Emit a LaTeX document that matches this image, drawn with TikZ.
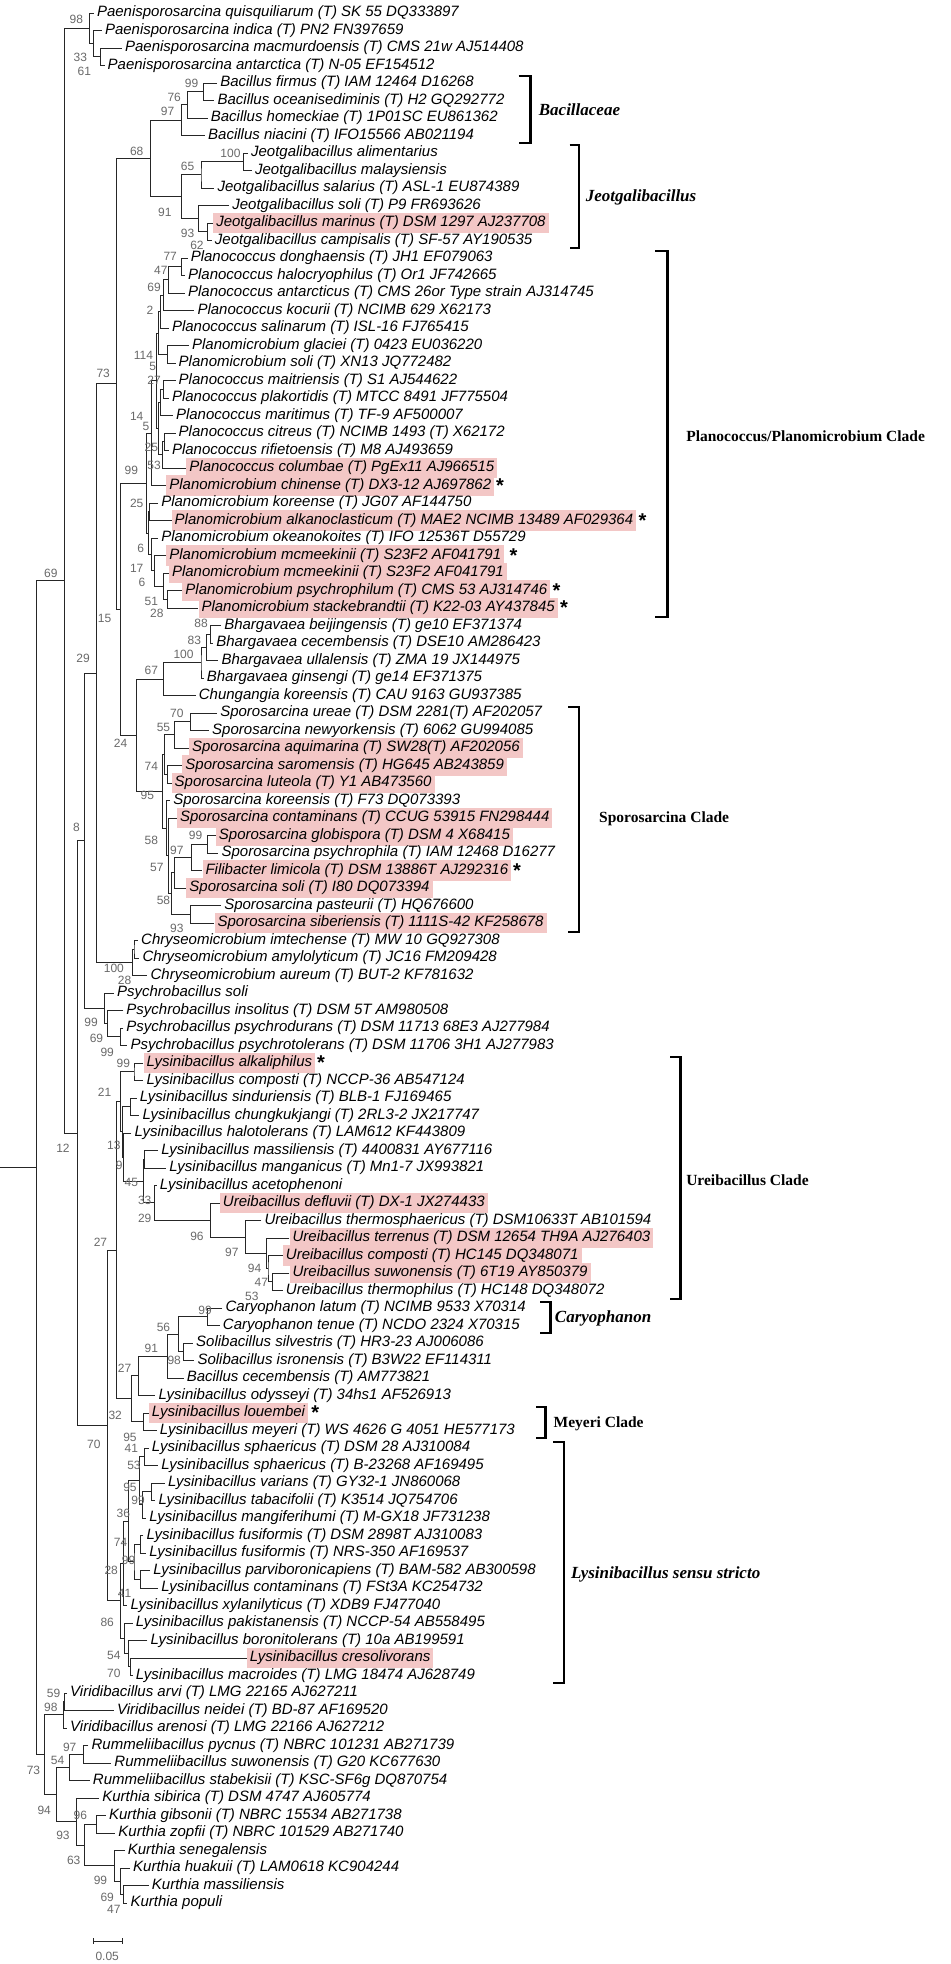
\documentclass[tikz,border=0pt]{standalone}
\usepackage{fontspec}
\setmainfont{Liberation Sans}
\newfontfamily\cladefont{Liberation Serif}
\usetikzlibrary{calc,positioning}
\definecolor{hilite}{RGB}{243,199,198}
\definecolor{bsgray}{RGB}{105,105,105}

% internal node: name, x, upper child, lower child
\newcommand{\clade}[4]{%
  \coordinate (#1m) at ($(#3)!0.5!(#4)$);
  \coordinate (#1) at (#2,0 |- #1m);
  \draw[branch] (#3) -| (#1) |- (#4);%
}

\begin{document}
\begin{tikzpicture}[x=1.34pt,y=-1pt]
  \tikzstyle{branch}=[line width=0.8pt,black!85]
  \tikzstyle{leaf}=[anchor=west,inner xsep=3pt,inner ysep=2.8pt,text height=11pt,text depth=3.5pt,font=\fontsize{15}{18}\selectfont\itshape]
  \tikzstyle{hl}=[leaf,fill=hilite]
  \tikzstyle{astk}=[inner xsep=1pt,inner ysep=0pt,font=\fontsize{20}{20}\selectfont\bfseries]
  \tikzstyle{bs}=[inner sep=0pt,text=bsgray,font=\fontsize{12}{12}\selectfont]
  \tikzstyle{brk}=[line width=2.6pt]
  \tikzstyle{cl}=[anchor=west,inner sep=0pt,font=\cladefont\bfseries\fontsize{15.5}{18}\selectfont]
  \tikzstyle{cli}=[cl,font=\cladefont\bfseries\itshape\fontsize{17}{18}\selectfont]
  \useasboundingbox (0,0) rectangle (709,1964);

  % taxa
  \node[leaf] (T_1) at (70,13) {Paenisporosarcina quisquiliarum (T) SK 55 DQ333897};
  \node[leaf] (T_2) at (76,30.5) {Paenisporosarcina indica (T) PN2 FN397659};
  \node[leaf] (T_3) at (91,48) {Paenisporosarcina macmurdoensis (T) CMS 21w AJ514408};
  \node[leaf] (T_4) at (78,65.5) {Paenisporosarcina antarctica (T) N-05 EF154512};
  \node[leaf] (T_5) at (162,83) {Bacillus firmus (T) IAM 12464 D16268};
  \node[leaf] (T_6) at (160,100.5) {Bacillus oceanisediminis (T) H2 GQ292772};
  \node[leaf] (T_7) at (155,118) {Bacillus homeckiae (T) 1P01SC EU861362};
  \node[leaf] (T_8) at (153,135.5) {Bacillus niacini (T) IFO15566 AB021194};
  \node[leaf] (T_9) at (185,153) {Jeotgalibacillus alimentarius};
  \node[leaf] (T_10) at (188,170.5) {Jeotgalibacillus malaysiensis};
  \node[leaf] (T_11) at (160,188) {Jeotgalibacillus salarius (T) ASL-1 EU874389};
  \node[leaf] (T_12) at (171,205.5) {Jeotgalibacillus soli (T) P9 FR693626};
  \node[hl] (T_13) at (159,223) {Jeotgalibacillus marinus (T) DSM 1297 AJ237708};
  \node[leaf] (T_14) at (158,240.5) {Jeotgalibacillus campisalis (T) SF-57 AY190535};
  \node[leaf] (T_15) at (140,258) {Planococcus donghaensis (T) JH1 EF079063};
  \node[leaf] (T_16) at (138,275.5) {Planococcus halocryophilus (T) Or1 JF742665};
  \node[leaf] (T_17) at (138,293) {Planococcus antarcticus (T) CMS 26or Type strain AJ314745};
  \node[leaf] (T_18) at (145,310.5) {Planococcus kocurii (T) NCIMB 629 X62173};
  \node[leaf] (T_19) at (126,328) {Planococcus salinarum (T) ISL-16 FJ765415};
  \node[leaf] (T_20) at (141,345.5) {Planomicrobium glaciei (T) 0423 EU036220};
  \node[leaf] (T_21) at (131,363) {Planomicrobium soli (T) XN13 JQ772482};
  \node[leaf] (T_22) at (131,380.5) {Planococcus maitriensis (T) S1 AJ544622};
  \node[leaf] (T_23) at (126,398) {Planococcus plakortidis (T) MTCC 8491 JF775504};
  \node[leaf] (T_24) at (129,415.5) {Planococcus maritimus (T) TF-9 AF500007};
  \node[leaf] (T_25) at (131,433) {Planococcus citreus (T) NCIMB 1493 (T) X62172};
  \node[leaf] (T_26) at (126,450.5) {Planococcus rifietoensis (T) M8 AJ493659};
  \node[hl] (T_27) at (139,468) {Planococcus columbae (T) PgEx11 AJ966515};
  \node[hl] (T_28) at (124,485.5) {Planomicrobium chinense (T) DX3-12 AJ697862};
  \node[leaf] (T_29) at (118,503) {Planomicrobium koreense (T) JG07 AF144750};
  \node[hl] (T_30) at (128,520.5) {Planomicrobium alkanoclasticum (T) MAE2 NCIMB 13489 AF029364};
  \node[leaf] (T_31) at (118,538) {Planomicrobium okeanokoites (T) IFO 12536T D55729};
  \node[hl] (T_32) at (124,555.5) {Planomicrobium mcmeekinii (T) S23F2 AF041791};
  \node[hl] (T_33) at (126,573) {Planomicrobium mcmeekinii (T) S23F2 AF041791};
  \node[hl] (T_34) at (136,590.5) {Planomicrobium psychrophilum (T) CMS 53 AJ314746};
  \node[hl] (T_35) at (148,608) {Planomicrobium stackebrandtii (T) K22-03 AY437845};
  \node[leaf] (T_36) at (165,625.5) {Bhargavaea beijingensis (T) ge10 EF371374};
  \node[leaf] (T_37) at (159,643) {Bhargavaea cecembensis (T) DSE10 AM286423};
  \node[leaf] (T_38) at (163,660.5) {Bhargavaea ullalensis (T) ZMA 19 JX144975};
  \node[leaf] (T_39) at (152,678) {Bhargavaea ginsengi (T) ge14 EF371375};
  \node[leaf] (T_40) at (146,695.5) {Chungangia koreensis (T) CAU 9163 GU937385};
  \node[leaf] (T_41) at (162,713) {Sporosarcina ureae (T) DSM 2281(T) AF202057};
  \node[leaf] (T_42) at (156,730.5) {Sporosarcina newyorkensis (T) 6062 GU994085};
  \node[hl] (T_43) at (141,748) {Sporosarcina aquimarina (T) SW28(T) AF202056};
  \node[hl] (T_44) at (136,765.5) {Sporosarcina saromensis (T) HG645 AB243859};
  \node[hl] (T_45) at (128,783) {Sporosarcina luteola (T) Y1 AB473560};
  \node[leaf] (T_46) at (127,800.5) {Sporosarcina koreensis (T) F73 DQ073393};
  \node[hl] (T_47) at (132,818) {Sporosarcina contaminans (T) CCUG 53915 FN298444};
  \node[hl] (T_48) at (161,835.5) {Sporosarcina globispora (T) DSM 4 X68415};
  \node[leaf] (T_49) at (163,853) {Sporosarcina psychrophila (T) IAM 12468 D16277};
  \node[hl] (T_50) at (151,870.5) {Filibacter limicola (T) DSM 13886T AJ292316};
  \node[hl] (T_51) at (139,888) {Sporosarcina soli (T) I80 DQ073394};
  \node[leaf] (T_52) at (165,905.5) {Sporosarcina pasteurii (T) HQ676600};
  \node[hl] (T_53) at (160,923) {Sporosarcina siberiensis (T) 1111S-42 KF258678};
  \node[leaf] (T_54) at (103,940.5) {Chryseomicrobium imtechense (T) MW 10 GQ927308};
  \node[leaf] (T_55) at (104,958) {Chryseomicrobium amylolyticum (T) JC16 FM209428};
  \node[leaf] (T_56) at (110,975.5) {Chryseomicrobium aureum (T) BUT-2 KF781632};
  \node[leaf] (T_57) at (85,993) {Psychrobacillus soli};
  \node[leaf] (T_58) at (92,1010.5) {Psychrobacillus insolitus (T) DSM 5T AM980508};
  \node[leaf] (T_59) at (92,1028) {Psychrobacillus psychrodurans (T) DSM 11713 68E3 AJ277984};
  \node[leaf] (T_60) at (95,1045.5) {Psychrobacillus psychrotolerans (T) DSM 11706 3H1 AJ277983};
  \node[hl] (T_61) at (107,1063) {Lysinibacillus alkaliphilus};
  \node[leaf] (T_62) at (107,1080.5) {Lysinibacillus composti (T) NCCP-36 AB547124};
  \node[leaf] (T_63) at (102,1098) {Lysinibacillus sinduriensis (T) BLB-1 FJ169465};
  \node[leaf] (T_64) at (104,1115.5) {Lysinibacillus chungkukjangi (T) 2RL3-2 JX217747};
  \node[leaf] (T_65) at (98,1133) {Lysinibacillus halotolerans (T) LAM612 KF443809};
  \node[leaf] (T_66) at (118,1150.5) {Lysinibacillus massiliensis (T) 4400831 AY677116};
  \node[leaf] (T_67) at (124,1168) {Lysinibacillus manganicus (T) Mn1-7 JX993821};
  \node[leaf] (T_68) at (117,1185.5) {Lysinibacillus acetophenoni};
  \node[hl] (T_69) at (164,1203) {Ureibacillus defluvii (T) DX-1 JX274433};
  \node[leaf] (T_70) at (195,1220.5) {Ureibacillus thermosphaericus (T) DSM10633T AB101594};
  \node[hl] (T_71) at (216,1238) {Ureibacillus terrenus (T) DSM 12654 TH9A AJ276403};
  \node[hl] (T_72) at (211,1255.5) {Ureibacillus composti (T) HC145 DQ348071};
  \node[hl] (T_73) at (216,1273) {Ureibacillus suwonensis (T) 6T19 AY850379};
  \node[leaf] (T_74) at (211,1290.5) {Ureibacillus thermophilus (T) HC148 DQ348072};
  \node[leaf] (T_75) at (166,1308) {Caryophanon latum (T) NCIMB 9533 X70314};
  \node[leaf] (T_76) at (164,1325.5) {Caryophanon tenue (T) NCDO 2324 X70315};
  \node[leaf] (T_77) at (144,1343) {Solibacillus silvestris (T) HR3-23 AJ006086};
  \node[leaf] (T_78) at (145,1360.5) {Solibacillus isronensis (T) B3W22 EF114311};
  \node[leaf] (T_79) at (137,1378) {Bacillus cecembensis (T) AM773821};
  \node[leaf] (T_80) at (116,1395.5) {Lysinibacillus odysseyi (T) 34hs1 AF526913};
  \node[hl] (T_81) at (111,1413) {Lysinibacillus louembei};
  \node[leaf] (T_82) at (117,1430.5) {Lysinibacillus meyeri (T) WS 4626 G 4051 HE577173};
  \node[leaf] (T_83) at (111,1448) {Lysinibacillus sphaericus (T) DSM 28 AJ310084};
  \node[leaf] (T_84) at (118,1465.5) {Lysinibacillus sphaericus (T) B-23268 AF169495};
  \node[leaf] (T_85) at (123,1483) {Lysinibacillus varians (T) GY32-1 JN860068};
  \node[leaf] (T_86) at (116,1500.5) {Lysinibacillus tabacifolii (T) K3514 JQ754706};
  \node[leaf] (T_87) at (109,1518) {Lysinibacillus mangiferihumi (T) M-GX18 JF731238};
  \node[leaf] (T_88) at (107,1535.5) {Lysinibacillus fusiformis (T) DSM 2898T AJ310083};
  \node[leaf] (T_89) at (109,1553) {Lysinibacillus fusiformis (T) NRS-350 AF169537};
  \node[leaf] (T_90) at (112,1570.5) {Lysinibacillus parviboronicapiens (T) BAM-582 AB300598};
  \node[leaf] (T_91) at (118,1588) {Lysinibacillus contaminans (T) FSt3A KC254732};
  \node[leaf] (T_92) at (95,1605.5) {Lysinibacillus xylanilyticus (T) XDB9 FJ477040};
  \node[leaf] (T_93) at (99,1623) {Lysinibacillus pakistanensis (T) NCCP-54 AB558495};
  \node[leaf] (T_94) at (110,1640.5) {Lysinibacillus boronitolerans (T) 10a AB199591};
  \node[hl] (T_95) at (184,1658) {Lysinibacillus cresolivorans};
  \node[leaf] (T_96) at (99,1675.5) {Lysinibacillus macroides (T) LMG 18474 AJ628749};
  \node[leaf] (T_97) at (50,1693) {Viridibacillus arvi (T) LMG 22165 AJ627211};
  \node[leaf] (T_98) at (85,1710.5) {Viridibacillus neidei (T) BD-87 AF169520};
  \node[leaf] (T_99) at (50,1728) {Viridibacillus arenosi (T) LMG 22166 AJ627212};
  \node[leaf] (T_100) at (66,1745.5) {Rummeliibacillus pycnus (T) NBRC 101231 AB271739};
  \node[leaf] (T_101) at (83,1763) {Rummeliibacillus suwonensis (T) G20 KC677630};
  \node[leaf] (T_102) at (67,1780.5) {Rummeliibacillus stabekisii (T) KSC-SF6g DQ870754};
  \node[leaf] (T_103) at (74,1798) {Kurthia sibirica (T) DSM 4747 AJ605774};
  \node[leaf] (T_104) at (79,1815.5) {Kurthia gibsonii (T) NBRC 15534 AB271738};
  \node[leaf] (T_105) at (86,1833) {Kurthia zopfii (T) NBRC 101529 AB271740};
  \node[leaf] (T_106) at (93,1850.5) {Kurthia senegalensis};
  \node[leaf] (T_107) at (97,1868) {Kurthia huakuii (T) LAM0618 KC904244};
  \node[leaf] (T_108) at (111,1885.5) {Kurthia massiliensis};
  \node[leaf] (T_109) at (95,1903) {Kurthia populi};

  % asterisks
  \node[astk, right=0.5pt of T_28] (s_28) {*};
  \node[astk, right=1pt of T_30] (s_30) {*};
  \node[astk, right=4pt of T_32] (s_32) {*};
  \node[astk, right=1pt of T_34] (s_34) {*};
  \node[astk, right=1pt of T_35] (s_35) {*};
  \node[astk, right=0.5pt of T_50] (s_50) {*};
  \node[astk, right=0.5pt of T_61] (s_61) {*};
  \node[astk, right=2pt of T_81] (s_81) {*};

  % branches
  \clade{N_P3}{75}{T_3}{T_4}
  \clade{N_P2}{70}{T_2}{N_P3}
  \clade{N_P1}{67}{T_1}{N_P2}
  \clade{N_Ba3}{152}{T_5}{T_6}
  \clade{N_Ba2}{140}{N_Ba3}{T_7}
  \clade{N_Ba}{135}{N_Ba2}{T_8}
  \clade{N_Je1a}{182}{T_9}{T_10}
  \clade{N_Je1}{150}{N_Je1a}{T_11}
  \clade{N_Je2a}{155}{T_13}{T_14}
  \clade{N_Je2}{148}{T_12}{N_Je2a}
  \clade{N_Je}{135}{N_Je1}{N_Je2}
  \clade{N_J}{112}{N_Ba}{N_Je}
  \clade{N_Pl1}{135}{T_15}{T_16}
  \clade{N_Pl2}{126}{N_Pl1}{T_17}
  \clade{N_Pl3}{122}{N_Pl2}{T_18}
  \clade{N_Pn1}{119.5}{N_Pl3}{T_19}
  \clade{N_Pm1}{125}{T_20}{T_21}
  \clade{N_Pn2}{118}{N_Pn1}{N_Pm1}
  \clade{N_Pc5}{122}{T_22}{T_23}
  \clade{N_Pc8}{120}{N_Pc5}{T_24}
  \clade{N_Pc6}{123}{T_25}{T_26}
  \clade{N_Pc7}{121}{N_Pc6}{T_27}
  \clade{N_Pc9}{118.5}{N_Pc8}{N_Pc7}
  \clade{N_Pn3}{116.5}{N_Pn2}{N_Pc9}
  \clade{N_Pn4}{113}{N_Pn3}{T_28}
  \clade{N_Pm2}{111.5}{T_29}{T_30}
  \clade{N_Pm3}{125}{T_34}{T_35}
  \clade{N_Pm4}{122}{T_33}{N_Pm3}
  \clade{N_Pm5}{115}{T_32}{N_Pm4}
  \clade{N_Pm6}{113}{T_31}{N_Pm5}
  \clade{N_Pm7}{110.5}{N_Pm2}{N_Pm6}
  \clade{N_Q}{109}{N_Pn4}{N_Pm7}
  \clade{N_Bh3}{157}{T_36}{T_37}
  \clade{N_Bh2}{154}{N_Bh3}{T_38}
  \clade{N_Bh1}{150}{N_Bh2}{T_39}
  \clade{N_Bh}{122}{N_Bh1}{T_40}
  \clade{N_Sp1}{142}{T_41}{T_42}
  \clade{N_Sp2}{130}{N_Sp1}{T_43}
  \clade{N_Sp3}{125}{T_44}{T_45}
  \clade{N_Spt}{123}{N_Sp2}{N_Sp3}
  \clade{N_Bx1}{155}{T_48}{T_49}
  \clade{N_Bx2}{143}{N_Bx1}{T_50}
  \clade{N_Bx3}{130}{N_Bx2}{T_51}
  \clade{N_Bx4}{142}{T_52}{T_53}
  \clade{N_Bx5}{128}{N_Bx3}{N_Bx4}
  \clade{N_Bx6}{126}{T_47}{N_Bx5}
  \clade{N_Bx7}{124}{T_46}{N_Bx6}
  \clade{N_Sp}{121}{N_Spt}{N_Bx7}
  \clade{N_R}{102}{N_Bh}{N_Sp}
  \clade{N_K}{90}{N_Q}{N_R}
  \clade{N_H}{87}{N_J}{N_K}
  \clade{N_Ch1}{100}{T_54}{T_55}
  \clade{N_Ch}{99}{N_Ch1}{T_56}
  \clade{N_G}{72}{N_H}{N_Ch}
  \clade{N_Ps3}{90}{T_59}{T_60}
  \clade{N_Ps2}{80}{T_58}{N_Ps3}
  \clade{N_Ps}{78}{T_57}{N_Ps2}
  \clade{N_C}{63}{N_G}{N_Ps}
  \clade{N_Ly1}{100}{T_61}{T_62}
  \clade{N_Ly2}{97}{T_63}{T_64}
  \clade{N_Ly3}{108}{T_66}{T_67}
  \clade{N_Ur1}{203}{T_73}{T_74}
  \clade{N_Ur2}{200}{T_72}{N_Ur1}
  \clade{N_Ur3}{199}{T_71}{N_Ur2}
  \clade{N_Ur4}{183}{T_70}{N_Ur3}
  \clade{N_Ur}{157}{T_69}{N_Ur4}
  \clade{N_Ly4}{115}{T_68}{N_Ur}
  \clade{N_Ly5}{107}{N_Ly3}{N_Ly4}
  \clade{N_Ly6}{92}{T_65}{N_Ly5}
  \clade{N_Ly7}{91}{N_Ly2}{N_Ly6}
  \clade{N_Ly}{89.5}{N_Ly1}{N_Ly7}
  \clade{N_Ca}{155}{T_75}{T_76}
  \clade{N_So}{137}{T_77}{T_78}
  \clade{N_Ca2}{133}{N_Ca}{N_So}
  \clade{N_Ca3}{125}{N_Ca2}{T_79}
  \clade{N_Ca4}{103}{N_Ca3}{T_80}
  \clade{N_Me}{107}{T_81}{T_82}
  \clade{N_Ca5}{98}{N_Ca4}{N_Me}
  \clade{N_E}{87}{N_Ly}{N_Ca5}
  \clade{N_F1}{108}{T_83}{T_84}
  \clade{N_F2}{113}{T_85}{T_86}
  \clade{N_F3}{106}{N_F2}{T_87}
  \clade{N_F4}{104}{N_F1}{N_F3}
  \clade{N_F5}{105}{T_88}{T_89}
  \clade{N_F6}{105}{T_90}{T_91}
  \clade{N_F7}{100}{N_F5}{N_F6}
  \clade{N_Fa}{96}{N_F4}{N_F7}
  \clade{N_Ft}{92}{N_Fa}{T_92}
  \clade{N_G1}{97}{T_95}{T_96}
  \clade{N_G2}{96}{T_94}{N_G1}
  \clade{N_G3}{93}{T_93}{N_G2}
  \clade{N_F}{90}{N_Ft}{N_G3}
  \clade{N_D}{80}{N_E}{N_F}
  \clade{N_B}{58}{N_C}{N_D}
  \clade{N_A}{48}{N_P1}{N_B}
  \clade{N_Vi1}{48}{T_97}{T_98}
  \clade{N_Vi}{47}{N_Vi1}{T_99}
  \clade{N_Ru1}{62}{T_100}{T_101}
  \clade{N_Ru}{52}{N_Ru1}{T_102}
  \clade{N_Ku1}{72}{T_104}{T_105}
  \clade{N_Ku2}{92}{T_108}{T_109}
  \clade{N_Ku3}{90}{T_107}{N_Ku2}
  \clade{N_Ku4}{85}{T_106}{N_Ku3}
  \clade{N_Ku5}{63}{N_Ku1}{N_Ku4}
  \clade{N_Ku}{57}{T_103}{N_Ku5}
  \clade{N_RK}{42}{N_Ru}{N_Ku}
  \clade{N_Bt}{33}{N_Vi}{N_RK}
  \clade{N_rt}{27}{N_A}{N_Bt}
  \coordinate (N_rt0) at (0,0 |- N_rt);
  \draw[branch] (N_rt0) -- (N_rt);

  % bootstrap values
  \node[bs] (b_1) at (57,19) {98};
  \node[bs] (b_2) at (60,57) {33};
  \node[bs] (b_3) at (63,71) {61};
  \node[bs] (b_4) at (143,83) {99};
  \node[bs] (b_5) at (130,97) {76};
  \node[bs] (b_6) at (125,111) {97};
  \node[bs] (b_7) at (102,151) {68};
  \node[bs] (b_8) at (172,153) {100};
  \node[bs] (b_9) at (140,166) {65};
  \node[bs] (b_10) at (123,212) {91};
  \node[bs] (b_11) at (140,233) {93};
  \node[bs] (b_12) at (147,245) {62};
  \node[bs] (b_13) at (127,256) {77};
  \node[bs] (b_14) at (120,270) {47};
  \node[bs] (b_15) at (115,287) {69};
  \node[bs] (b_16) at (112,310) {2};
  \node[bs] (b_17) at (107,355) {114};
  \node[bs] (b_18) at (114,366) {5};
  \node[bs] (b_19) at (77,373) {73};
  \node[bs] (b_20) at (115,380) {27};
  \node[bs] (b_21) at (102,416) {14};
  \node[bs] (b_22) at (109,426) {5};
  \node[bs] (b_23) at (113,447) {25};
  \node[bs] (b_24) at (115,465) {53};
  \node[bs] (b_25) at (98,470) {99};
  \node[bs] (b_26) at (102,503) {25};
  \node[bs] (b_27) at (105,548) {6};
  \node[bs] (b_28) at (102,568) {17};
  \node[bs] (b_29) at (38,573) {69};
  \node[bs] (b_30) at (106,582) {6};
  \node[bs] (b_31) at (113,601) {51};
  \node[bs] (b_32) at (117,613) {28};
  \node[bs] (b_33) at (78,618) {15};
  \node[bs] (b_34) at (150,623) {88};
  \node[bs] (b_35) at (145,640) {83};
  \node[bs] (b_36) at (137,654) {100};
  \node[bs] (b_37) at (62,658) {29};
  \node[bs] (b_38) at (113,670) {67};
  \node[bs] (b_39) at (132,713) {70};
  \node[bs] (b_40) at (122,727) {55};
  \node[bs] (b_41) at (90,743) {24};
  \node[bs] (b_42) at (113,766) {74};
  \node[bs] (b_43) at (110,795) {95};
  \node[bs] (b_44) at (57,827) {8};
  \node[bs] (b_45) at (146,835) {99};
  \node[bs] (b_46) at (113,840) {58};
  \node[bs] (b_47) at (132,850) {97};
  \node[bs] (b_48) at (117,867) {57};
  \node[bs] (b_49) at (122,900) {58};
  \node[bs] (b_50) at (132,928) {93};
  \node[bs] (b_51) at (85,968) {100};
  \node[bs] (b_52) at (93,980) {28};
  \node[bs] (b_53) at (68,1022) {99};
  \node[bs] (b_54) at (72,1038) {69};
  \node[bs] (b_55) at (80,1052) {99};
  \node[bs] (b_56) at (92,1063) {99};
  \node[bs] (b_57) at (78,1092) {21};
  \node[bs] (b_58) at (85,1145) {13};
  \node[bs] (b_59) at (47,1148) {12};
  \node[bs] (b_60) at (89,1165) {9};
  \node[bs] (b_61) at (98,1182) {45};
  \node[bs] (b_62) at (108,1200) {33};
  \node[bs] (b_63) at (108,1218) {29};
  \node[bs] (b_64) at (147,1236) {96};
  \node[bs] (b_65) at (75,1242) {27};
  \node[bs] (b_66) at (173,1252) {97};
  \node[bs] (b_67) at (190,1268) {94};
  \node[bs] (b_68) at (195,1282) {47};
  \node[bs] (b_69) at (188,1296) {53};
  \node[bs] (b_70) at (153,1310) {99};
  \node[bs] (b_71) at (122,1327) {56};
  \node[bs] (b_72) at (113,1348) {91};
  \node[bs] (b_73) at (130,1360) {98};
  \node[bs] (b_74) at (93,1368) {27};
  \node[bs] (b_75) at (86,1415) {32};
  \node[bs] (b_76) at (97,1437) {95};
  \node[bs] (b_77) at (70,1444) {70};
  \node[bs] (b_78) at (98,1448) {41};
  \node[bs] (b_79) at (100,1465) {53};
  \node[bs] (b_80) at (97,1487) {95};
  \node[bs] (b_81) at (103,1500) {99};
  \node[bs] (b_82) at (92,1513) {36};
  \node[bs] (b_83) at (90,1542) {74};
  \node[bs] (b_84) at (96,1560) {99};
  \node[bs] (b_85) at (83,1570) {28};
  \node[bs] (b_86) at (93,1593) {41};
  \node[bs] (b_87) at (80,1622) {86};
  \node[bs] (b_88) at (85,1655) {54};
  \node[bs] (b_89) at (85,1673) {70};
  \node[bs] (b_90) at (40,1693) {59};
  \node[bs] (b_91) at (38,1707) {98};
  \node[bs] (b_92) at (52,1747) {97};
  \node[bs] (b_93) at (43,1760) {54};
  \node[bs] (b_94) at (25,1770) {73};
  \node[bs] (b_95) at (33,1810) {94};
  \node[bs] (b_96) at (60,1815) {96};
  \node[bs] (b_97) at (47,1835) {93};
  \node[bs] (b_98) at (55,1860) {63};
  \node[bs] (b_99) at (75,1880) {99};
  \node[bs] (b_100) at (80,1897) {69};
  \node[bs] (b_101) at (85,1909) {47};

  % clade brackets
  \draw[brk] (387,76) -| (396,143) -- (387,143);
  \draw[brk] (425,145) -| (432,248) -- (425,248);
  \draw[brk] (489,251) -| (498,617) -- (489,617);
  \draw[brk] (424,707) -| (432,932) -- (424,932);
  \draw[brk] (500,1057) -| (508,1299) -- (500,1299);
  \draw[brk] (403,1302) -| (411,1333) -- (403,1333);
  \draw[brk] (400,1407) -| (407,1438) -- (400,1438);
  \draw[brk] (413,1442) -| (421,1683) -- (413,1683);
  \node[cli] (c_bac) at (402,110) {Bacillaceae};
  \node[cli] (c_jeo) at (437,197) {Jeotgalibacillus};
  \node[cl] (c_pla) at (512,436) {Planococcus/Planomicrobium Clade};
  \node[cl] (c_spo) at (447,819) {Sporosarcina Clade};
  \node[cl] (c_ure) at (512,1180) {Ureibacillus Clade};
  \node[cli] (c_car) at (414,1318) {Caryophanon};
  \node[cl] (c_mey) at (413,1424) {Meyeri Clade};
  \node[cli] (c_lys) at (426,1574) {Lysinibacillus sensu stricto};

  % scale bar
  \coordinate (sb_l) at (70,1941);
  \coordinate (sb_r) at (91,1941);
  \draw[branch] (sb_l) -- (sb_r);
  \draw[branch] ([yshift=3pt]sb_l) -- ([yshift=-3pt]sb_l);
  \draw[branch] ([yshift=3pt]sb_r) -- ([yshift=-3pt]sb_r);
  \node[bs] (sb_t) at (80,1956) {0.05};
\end{tikzpicture}
\end{document}
